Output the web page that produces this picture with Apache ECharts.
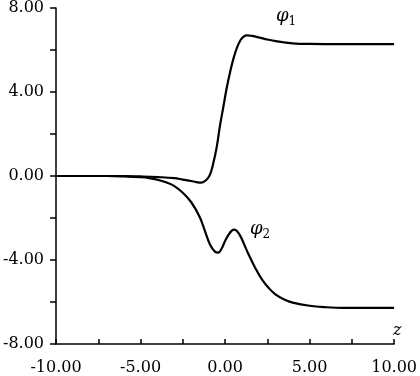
<!DOCTYPE html>
<html>
<head>
<meta charset="utf-8">
<script src="https://cdn.jsdelivr.net/npm/echarts@6/dist/echarts.min.js"></script>
<style>
  html, body { margin: 0; padding: 0; background: #fff; }
  #chart { width: 420px; height: 376px; }
</style>
</head>
<body>
<div id="chart"></div>
<script>
// values
const phi1Z = [-10, -6, -5, -4, -3, -2.5, -2, -1.7, -1.4, -1.1, -0.9, -0.7, -0.5, -0.3, -0.1, 0.1, 0.3, 0.5, 0.7, 0.9, 1.1, 1.3, 1.6, 2, 2.5, 3, 4, 5, 7, 10]
const phi1 = [0, 0, -0.02, -0.05, -0.1, -0.17, -0.24, -0.29, -0.32, -0.18, 0.05, 0.6, 1.35, 2.4, 3.3, 4.2, 4.95, 5.6, 6.1, 6.45, 6.64, 6.7, 6.67, 6.6, 6.5, 6.42, 6.32, 6.29, 6.28, 6.28]

const phi2Z = [-10, -7, -6, -5, -4.5, -4, -3.5, -3, -2.5, -2, -1.5, -1.2, -0.9, -0.6, -0.4, -0.2, 0, 0.2, 0.4, 0.55, 0.7, 0.9, 1.1, 1.4, 1.8, 2.2, 2.6, 3, 3.5, 4, 5, 6, 7, 10]
const phi2 = [0, 0, -0.02, -0.06, -0.1, -0.18, -0.3, -0.48, -0.8, -1.25, -1.95, -2.6, -3.25, -3.6, -3.65, -3.45, -3.1, -2.8, -2.6, -2.55, -2.62, -2.85, -3.2, -3.75, -4.4, -4.95, -5.35, -5.65, -5.88, -6.03, -6.18, -6.25, -6.28, -6.28]

const font = 'DejaVu Serif'
const ink = '#000'

function pairs(xs, ys) {
  return xs.map((x, i) => [x, ys[i]])
}

const chart = echarts.init(document.getElementById('chart'))

chart.setOption({
  animation: false,
  backgroundColor: '#fff',
  grid: {
    left: 55,
    right: 23,
    top: 8,
    bottom: 31
  },
  xAxis: {
    type: 'value',
    min: -10,
    max: 10,
    interval: 2.5,
    axisLine: { show: true, onZero: false, lineStyle: { color: ink, width: 1.5 } },
    axisTick: { show: true, inside: true, length: 5, lineStyle: { color: ink, width: 1.5 } },
    axisLabel: {
      color: ink,
      fontFamily: font,
      fontSize: 16,
      margin: 16,
      showMinLabel: true,
      showMaxLabel: true,
      formatter: function(v) {
        return v % 5 === 0 ? v.toFixed(2) : ''
      }
    },
    splitLine: { show: false }
  },
  yAxis: {
    type: 'value',
    min: -8,
    max: 8,
    interval: 2,
    axisLine: { show: true, onZero: false, lineStyle: { color: ink, width: 1.5 } },
    axisTick: { show: true, length: 6, lineStyle: { color: ink, width: 1.5 } },
    axisLabel: {
      color: ink,
      fontFamily: font,
      fontSize: 16,
      margin: 12,
      formatter: function(v) {
        return v % 4 === 0 ? v.toFixed(2) : ''
      }
    },
    splitLine: { show: false }
  },
  series: [{
    name: 'phi1',
    type: 'line',
    smooth: 0.4,
    showSymbol: false,
    lineStyle: { color: ink, width: 2.2 },
    data: pairs(phi1Z, phi1)
  }, {
    name: 'phi2',
    type: 'line',
    smooth: 0.4,
    showSymbol: false,
    lineStyle: { color: ink, width: 2.2 },
    data: pairs(phi2Z, phi2)
  }],
  graphic: [{
    type: 'text',
    left: 276,
    top: 7,
    style: {
      text: '{p|φ}{s|1}',
      rich: {
        p: { fontFamily: font, fontStyle: 'italic', fontSize: 18, fill: ink },
        s: { fontFamily: font, fontSize: 12, fill: ink, padding: [12, 0, 0, 0] }
      }
    }
  }, {
    type: 'text',
    left: 250,
    top: 220,
    style: {
      text: '{p|φ}{s|2}',
      rich: {
        p: { fontFamily: font, fontStyle: 'italic', fontSize: 18, fill: ink },
        s: { fontFamily: font, fontSize: 12, fill: ink, padding: [12, 0, 0, 0] }
      }
    }
  }, {
    type: 'text',
    left: 393,
    top: 323,
    style: {
      text: 'z',
      fontFamily: font,
      fontStyle: 'italic',
      fontSize: 16,
      fill: ink
    }
  }]
})
</script>
</body>
</html>
